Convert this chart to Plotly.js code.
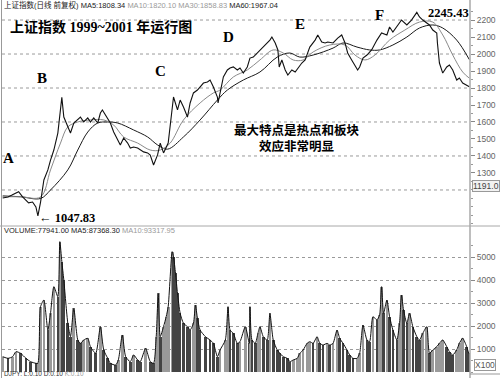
<!DOCTYPE html>
<html><head><meta charset="utf-8">
<script src="https://cdn.plot.ly/plotly-3.0.1.min.js"></script>
<style>html,body{margin:0;padding:0;background:#fff}#chart{width:500px;height:378px}</style>
</head><body><div id="chart"></div>
<script>
// trading-session number (0 = start of 1999) and daily close of the Shanghai Composite
const closeDay = [0,8,14,20,24,30,35,39,45,50,53,57,62,68,72,77,83,86,89,92,98,102,107,113,117,122,128,132,137,143,147,150,158,162,167,173,177,182,188,192,197,203,207,212,218,222,227,233,237,242,249,255,257,263,267,272,278,282,287,293,297,302,308,312,317,323,324,327,332,338,342,347,353,357,362,368,372,377,383,387,392,398,402,405,410,414,416,420,425,429,435,440,444,450,455,462,470,474,480,485,489,497,504,510,515,519,525,530,534,537,542,548,555,563,570,578,582,587,594,600,608,615,623,627,632,638,642,647,653,654,657,662,668,672,677,683,687,692,698,702];
const closeVal = [1153,1159,1170,1182,1190,1159,1141,1124,1129,1100,1048,1129,1259,1318,1376,1435,1535,1653,1745,1629,1571,1535,1594,1612,1629,1600,1624,1600,1624,1594,1653,1671,1624,1594,1541,1494,1465,1506,1476,1447,1453,1447,1435,1424,1418,1406,1347,1406,1476,1418,1476,1671,1747,1671,1729,1688,1629,1712,1771,1788,1806,1829,1835,1847,1806,1747,1712,1771,1865,1906,1918,1924,1906,1918,1888,1924,1976,1982,2006,2024,2041,2065,2082,2100,2065,2024,1924,1965,1906,1876,1906,1894,1918,1947,1965,2041,2082,2112,2071,2065,2071,2065,2094,2112,2065,2006,1965,1935,1906,1924,1976,1994,2024,2082,2124,2112,2159,2129,2171,2200,2171,2200,2245,2218,2200,2182,2171,2141,2124,2065,1947,1888,1924,1935,1906,1847,1859,1829,1818,1808];
const ma30Day = [0,27,57,72,87,98,113,132,152,167,182,203,222,237,252,272,297,317,327,347,368,387,407,422,437,452,467,492,515,530,545,560,582,605,627,647,662,677,692,702];
const ma30Val = [1160,1160,1159,1318,1476,1571,1600,1612,1612,1582,1512,1476,1435,1435,1476,1612,1712,1771,1788,1865,1906,1965,2024,2006,1965,1965,2012,2053,2053,1994,1965,1994,2082,2141,2188,2188,2112,1994,1894,1858];
const ma60Day = [0,27,57,72,98,113,128,143,158,173,197,218,233,248,272,297,323,338,362,387,413,432,447,467,497,512,533,552,567,587,608,627,647,662,683,702];
const ma60Val = [1165,1160,1150,1200,1318,1435,1541,1594,1600,1594,1553,1512,1465,1440,1512,1612,1729,1788,1847,1894,1982,2006,1982,1994,2035,2065,2041,2024,2024,2053,2100,2153,2171,2153,2082,1967];
// volume (x100 lots)
const volDay = [0,8,15,20,27,35,42,50,53,57,62,68,72,77,83,86,89,92,98,102,107,113,117,122,128,132,140,147,152,158,162,170,174,180,185,192,197,203,207,215,222,227,231,234,237,242,246,249,255,257,260,263,267,272,278,282,287,290,293,297,305,312,317,323,327,335,339,342,347,353,357,365,371,372,375,380,384,387,392,398,402,407,413,417,422,428,432,437,443,447,452,458,462,467,473,477,482,488,492,497,503,507,512,518,522,527,533,537,542,548,552,557,563,567,570,573,578,582,587,593,597,600,603,608,612,617,623,627,632,638,642,647,653,657,662,668,672,677,683,687,692,698,701];
const volVal = [667,594,667,884,812,594,449,377,377,2841,3130,1826,2551,3710,3275,5667,4797,4000,2116,1536,2768,1391,1246,1391,1464,1101,812,1971,957,594,377,304,522,1609,667,449,739,522,449,1029,449,377,1536,3420,1536,1971,2406,2841,5232,5014,4290,3420,2551,2116,1971,1826,2116,2913,2333,1826,1536,1391,1246,667,957,1391,2841,1826,1681,1246,1319,1971,1246,2841,1391,1246,1681,1971,1536,1391,2551,1391,957,812,667,594,449,522,594,812,957,1246,1319,1246,1536,1246,1174,1246,1174,1246,1826,1464,1246,957,739,594,594,812,2043,1391,1319,2406,2261,2478,3710,2551,3130,2406,1826,1391,2116,3348,2696,2116,2551,1971,1536,1391,1681,1971,812,957,1101,1246,1391,1101,884,739,957,1246,1464,1101,812];
const priceTicks = [1300,1400,1500,1600,1700,1800,1900,2000,2100,2200];
const priceGrid = [1200,1400,1600,1800,2000,2200];
const volTicks = [1000,2000,3000,4000,5000];

const H = 378, L = 2, R = 470;
const xp = p => (p - L) / (R - L);
const yp = p => (H - p) / H;
const serif = 'Liberation Serif, Noto Sans CJK SC, serif';
const sans = 'Liberation Sans, Noto Sans CJK SC, sans-serif';

const barColors = volVal.map((v, i) => (i > 0 && v < volVal[i - 1]) ? '#444' : '#9a9a9a');

const traces = [
  {x: volDay, y: volVal, type: 'bar', width: 4, marker: {color: barColors, line: {width: 0}}, xaxis: 'x2', yaxis: 'y2'},
  {x: volDay, y: volVal, type: 'scatter', mode: 'lines', line: {color: '#111', width: 1, shape: 'spline', smoothing: 0.6}, xaxis: 'x2', yaxis: 'y2', hoverinfo: 'skip'},
  {x: ma60Day, y: ma60Val, type: 'scatter', mode: 'lines', line: {color: '#1a1a1a', width: 1, shape: 'spline'}, xaxis: 'x', yaxis: 'y', hoverinfo: 'skip'},
  {x: ma30Day, y: ma30Val, type: 'scatter', mode: 'lines', line: {color: '#8a8a8a', width: 1, shape: 'spline'}, xaxis: 'x', yaxis: 'y', hoverinfo: 'skip'},
  {x: closeDay, y: closeVal, type: 'scatter', mode: 'lines', line: {color: '#111', width: 1.1}, xaxis: 'x', yaxis: 'y'}
];

const shapes = priceGrid.map(v => ({type: 'line', xref: 'paper', yref: 'y', x0: 0, x1: 1, y0: v, y1: v, line: {color: '#9a9a9a', width: 1, dash: 'dot'}, layer: 'below'}));
shapes.push(
  {type: 'line', xref: 'paper', yref: 'paper', x0: 1, x1: 1, y0: yp(378), y1: yp(0), line: {color: '#a8a8a8', width: 1.5}},
  {type: 'line', xref: 'paper', yref: 'paper', x0: xp(1.5), x1: xp(1.5), y0: yp(378), y1: yp(0), line: {color: '#999', width: 1}},
  {type: 'line', xref: 'paper', yref: 'paper', x0: xp(0), x1: xp(500), y0: yp(226), y1: yp(226), line: {color: '#a8a8a8', width: 1}},
  {type: 'line', xref: 'paper', yref: 'paper', x0: xp(470), x1: xp(500), y0: yp(374), y1: yp(374), line: {color: '#999', width: 1}}
);

const ann = (x, y, text, opts) => Object.assign({xref: 'paper', yref: 'paper', x: xp(x), y: yp(y), text, showarrow: false, xanchor: 'center', yanchor: 'middle'}, opts || {});
const letter = {font: {family: serif, size: 15, color: '#000', weight: 'bold'}};

const annotations = [
  ann(2, 5, '上证指数(日线 前复权) MA5:1808.34 <span style="color:#9a9a9a">MA10:1820.10</span> <span style="color:#9a9a9a">MA30:1858.83</span> MA60:1967.04', {xanchor: 'left', font: {family: sans, size: 7.5, color: '#222'}}),
  ann(101, 27, '上证指数 1999~2001 年运行图', {font: {family: serif, size: 14, color: '#000', weight: 'bold'}}),
  ann(8, 158, 'A', letter), ann(42, 78, 'B', letter), ann(160, 71, 'C', letter),
  ann(228, 37, 'D', letter), ann(300, 24, 'E', letter), ann(379, 15, 'F', letter),
  ann(448, 13, '2245.43', {font: {family: serif, size: 12.5, color: '#000', weight: 'bold'}}),
  ann(37, 218, '← 1047.83', {xanchor: 'left', font: {family: serif, size: 12.5, color: '#000', weight: 'bold'}}),
  ann(297, 139, '最大特点是热点和板块<br>效应非常明显', {font: {family: serif, size: 12.5, color: '#000', weight: 'bold'}}),
  ann(472, 186, '1191.0', {xanchor: 'left', bordercolor: '#999', borderwidth: 1, borderpad: 0, bgcolor: '#f2f2f2', font: {family: sans, size: 8.5, color: '#444'}}),
  ann(474, 365, 'X100', {xanchor: 'left', bordercolor: '#999', borderwidth: 1, borderpad: 0, bgcolor: '#fff', font: {family: sans, size: 8.5, color: '#555'}}),
  ann(2, 230, 'VOLUME:77941.00 MA5:87368.30 <span style="color:#9a9a9a">MA10:93317.95</span>', {xanchor: 'left', font: {family: sans, size: 7.5, color: '#222'}}),
  ann(2, 373.5, 'DJPY: L:0.10 D:0.10 <span style="color:#9a9a9a">K:0.10</span>', {xanchor: 'left', font: {family: sans, size: 6.5, color: '#333'}})
];

const tickFont = {family: sans, size: 8.5, color: '#666'};
const layout = {
  width: 500, height: 378,
  margin: {l: L, r: 500 - R, t: 0, b: 0},
  paper_bgcolor: '#fff', plot_bgcolor: '#fff',
  showlegend: false, bargap: 0,
  xaxis: {range: [-1, 703], anchor: 'y', showticklabels: false, showgrid: false, zeroline: false, showline: false, ticks: ''},
  xaxis2: {range: [-1, 703], anchor: 'y2', matches: 'x', showticklabels: false, showgrid: false, zeroline: false, showline: false, ticks: ''},
  yaxis: {domain: [yp(226), yp(10)], range: [988, 2259], side: 'right', tickmode: 'array', tickvals: priceTicks,
          ticks: 'outside', ticklen: 4, tickcolor: '#888', tickfont: tickFont, showgrid: false, zeroline: false, showline: false,
          minor: {tickmode: 'linear', tick0: 1000, dtick: 50, ticks: 'outside', ticklen: 2, tickcolor: '#999'}},
  yaxis2: {domain: [yp(372), yp(236)], range: [0, 5913], side: 'right', tickmode: 'array', tickvals: volTicks,
           ticks: 'outside', ticklen: 4, tickcolor: '#888', tickfont: tickFont, showgrid: true, griddash: 'dot', gridcolor: '#9a9a9a', gridwidth: 1,
           zeroline: false, showline: false,
           minor: {tickmode: 'linear', tick0: 0, dtick: 500, ticks: 'outside', ticklen: 2, tickcolor: '#999'}},
  shapes, annotations
};
Plotly.newPlot('chart', traces, layout, {displayModeBar: false, staticPlot: true});
</script>
</body></html>
